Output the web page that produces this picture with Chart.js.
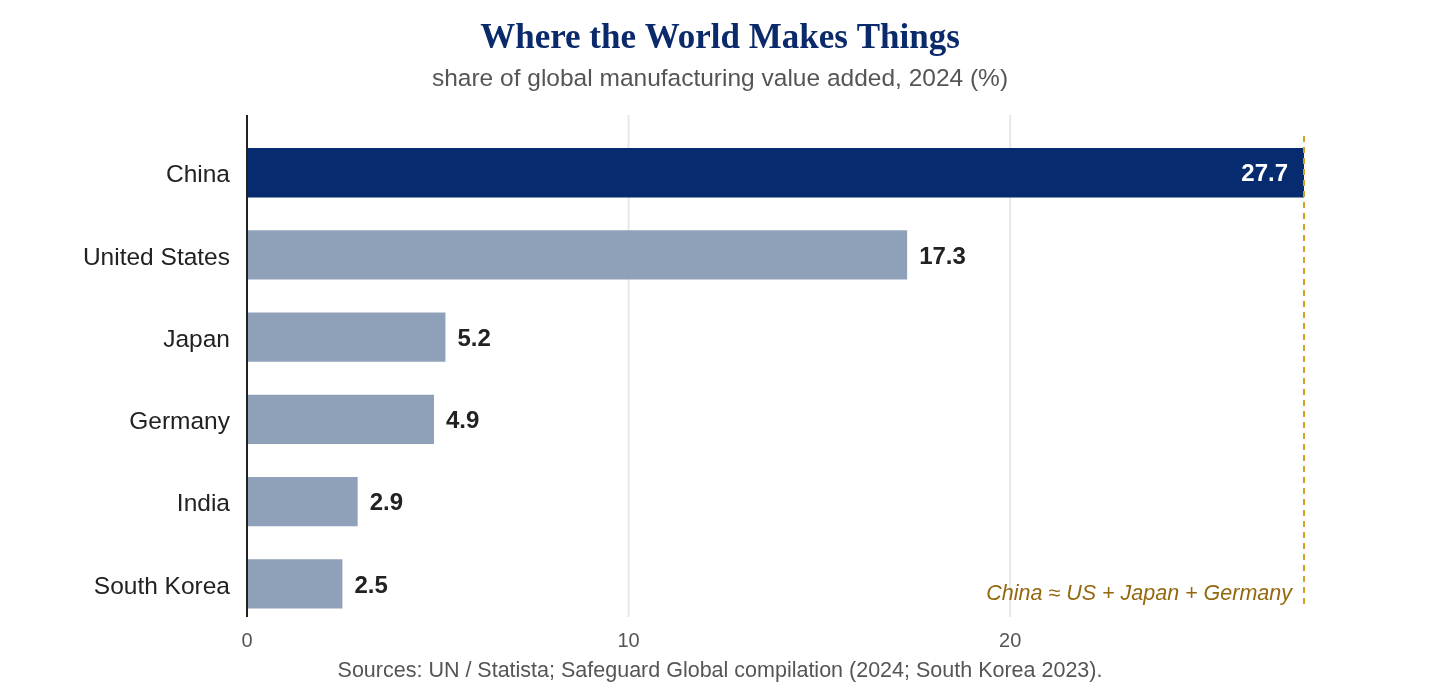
<!DOCTYPE html>
<html>
<head>
<meta charset="utf-8">
<title>Where the World Makes Things</title>
<script src="https://cdn.jsdelivr.net/npm/chart.js@4"></script>
<style>
  html, body { margin: 0; padding: 0; background: #fff; }
  canvas { display: block; }
</style>
</head>
<body>
<canvas id="chart" width="1440" height="692"></canvas>
<script>
// data
const countries = ['China', 'United States', 'Japan', 'Germany', 'India', 'South Korea'];
const shares = [27.7, 17.3, 5.2, 4.9, 2.9, 2.5];
const xTicks = [0, 10, 20];
const titleText = 'Where the World Makes Things';
const subtitleText = 'share of global manufacturing value added, 2024 (%)';
const noteText = 'China \u2248 US + Japan + Germany';
const sourceText = 'Sources: UN / Statista; Safeguard Global compilation (2024; South Korea 2023).';

const NAVY = '#062b6f';
const GREY_BAR = '#8fa1b9';
const SANS = '"Liberation Sans", Arial, sans-serif';
const SERIF = '"Liberation Serif", "Times New Roman", serif';

// grid lines, axis line, dashed China marker and all the free text
const backdrop = {
  id: 'backdrop',
  beforeDatasetsDraw(chart) {
    const c = chart.ctx, x = chart.scales.x;
    c.save();
    c.strokeStyle = '#e8e8e8';
    c.lineWidth = 2;
    xTicks.slice(1).forEach(function (t) {
      const px = x.getPixelForValue(t);
      c.beginPath(); c.moveTo(px, 115); c.lineTo(px, 617); c.stroke();
    });
    c.restore();
  },
  afterDatasetsDraw(chart) {
    const c = chart.ctx, x = chart.scales.x;
    c.save();
    // y axis line
    const x0 = x.getPixelForValue(0);
    c.strokeStyle = '#222';
    c.lineWidth = 2;
    c.beginPath(); c.moveTo(x0, 115); c.lineTo(x0, 617); c.stroke();

    // dashed reference at China's value
    const xc = x.getPixelForValue(shares[0]);
    c.strokeStyle = '#d4a020';
    c.setLineDash([6, 5]);
    c.beginPath(); c.moveTo(xc, 136); c.lineTo(xc, 608); c.stroke();
    c.setLineDash([]);

    // value labels
    const meta = chart.getDatasetMeta(0);
    c.font = 'bold 24px ' + SANS;
    c.textBaseline = 'middle';
    meta.data.forEach(function (bar, i) {
      const txt = shares[i].toFixed(1);
      if (i === 0) {
        c.fillStyle = '#fff';
        c.textAlign = 'right';
        c.fillText(txt, bar.x - 16, bar.y + 2);
      } else {
        c.fillStyle = '#222';
        c.textAlign = 'left';
        c.fillText(txt, bar.x + 12, bar.y + 2);
      }
    });

    // annotation
    c.font = 'italic 21.5px ' + SANS;
    c.fillStyle = '#94680f';
    c.textAlign = 'right';
    c.fillText(noteText, xc - 12, 594);

    // title + subtitle
    c.textAlign = 'center';
    c.font = 'bold 35px ' + SERIF;
    c.fillStyle = '#0b2a6b';
    c.fillText(titleText, 720, 39);
    c.font = '24.5px ' + SANS;
    c.fillStyle = '#555';
    c.fillText(subtitleText, 720, 79);

    // footer
    c.font = '21.5px ' + SANS;
    c.fillStyle = '#555';
    c.fillText(sourceText, 720, 671);
    c.restore();
  }
};

new Chart(document.getElementById('chart'), {
  type: 'bar',
  data: {
    labels: countries,
    datasets: [{
      data: shares,
      backgroundColor: shares.map(function (v, i) { return i === 0 ? NAVY : GREY_BAR; }),
      borderWidth: 0,
      barPercentage: 0.6,
      categoryPercentage: 1
    }]
  },
  options: {
    indexAxis: 'y',
    responsive: false,
    animation: false,
    devicePixelRatio: 1,
    layout: { padding: { left: 0, right: 136, top: 131.6, bottom: 0 } },
    plugins: {
      legend: { display: false },
      tooltip: { enabled: false },
      title: { display: false },
      subtitle: { display: false }
    },
    scales: {
      x: {
        type: 'linear',
        min: 0,
        max: shares[0],
        grid: { display: false, drawTicks: false },
        border: { display: false },
        ticks: {
          stepSize: 10,
          includeBounds: false,
          padding: 4,
          color: '#555',
          font: { family: SANS, size: 20 }
        },
        afterFit: function (s) { s.height = 67; }
      },
      y: {
        grid: { display: false, drawTicks: false },
        border: { display: false },
        ticks: {
          padding: 17,
          labelOffset: 3,
          color: '#222',
          font: { family: SANS, size: 24.5 }
        },
        afterFit: function (s) { s.width = 247; }
      }
    }
  },
  plugins: [backdrop]
});
</script>
</body>
</html>
